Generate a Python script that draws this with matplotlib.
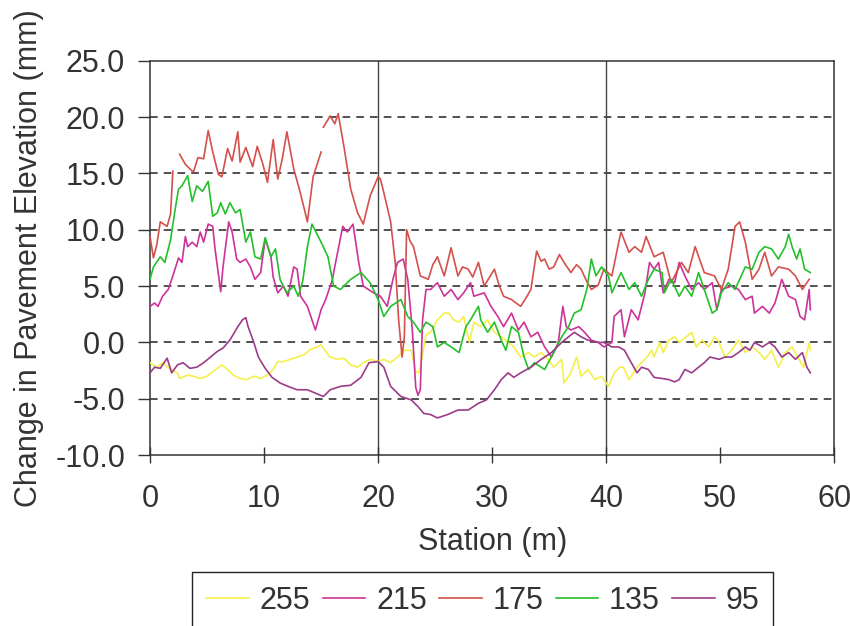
import numpy as np
import matplotlib
matplotlib.use("Agg")
import matplotlib.pyplot as plt

# --- data: (station m, change in elevation mm) ---
nan = np.nan

s255 = [(0.0, -1.8), (0.6, -2.2), (1.1, -1.8), (1.8, -2.4), (2.4, -2.7), (2.6, -3.2), (3.3, -2.9), (3.8, -3.0),
        (4.4, -3.2), (5.0, -3.0), (5.5, -2.6), (6.3, -2.0), (6.8, -2.4), (7.3, -2.9), (7.9, -3.2), (8.5, -3.3),
        (9.1, -3.0), (9.7, -3.2), (10.3, -2.9), (10.8, -2.4), (11.2, -1.7), (11.7, -1.7), (12.3, -1.5), (12.9, -1.3),
        (13.5, -1.1), (14.1, -0.6), (14.7, -0.4), (15.0, -0.2), (15.4, -0.8), (15.8, -1.3), (16.4, -1.5), (17.0, -1.4),
        (17.6, -2.0), (18.2, -2.2), (18.7, -1.8), (19.3, -1.5), (20.0, -1.7), (20.5, -1.5), (21.1, -1.8), (21.7, -1.3),
        (22.3, -0.7), (22.9, -0.7), (23.3, -2.6), (23.5, -2.7), (23.7, -2.2), (24.2, 0.7), (24.6, 0.9), (25.2, 2.0),
        (25.8, 2.6), (26.2, 2.6), (26.6, 2.0), (27.1, 1.8), (27.5, 2.3), (28.0, 0.0), (28.4, 1.8), (29.0, 1.4),
        (29.6, 2.0), (30.2, 0.9), (30.8, 0.5), (31.4, 0.0), (31.9, -0.4), (32.5, -1.3), (33.2, -0.9), (33.7, -1.3),
        (34.3, -0.9), (34.9, -1.5), (35.4, -2.2), (36.1, -1.5), (36.3, -3.6), (36.9, -2.7), (37.4, -1.3), (37.8, -3.0),
        (38.4, -2.4), (39.0, -3.3), (39.6, -3.0), (40.2, -3.9), (40.7, -2.7), (41.2, -2.2), (41.5, -2.2), (42.0, -3.3),
        (42.7, -2.2), (43.4, -1.5), (44.0, -0.7), (44.2, -1.3), (44.7, 0.0), (45.0, -0.9), (45.5, 0.2), (46.0, 0.5),
        (46.4, 0.0), (46.9, 0.4), (47.5, 0.9), (47.9, -0.4), (48.4, 0.2), (49.0, -0.4), (49.5, 0.5), (49.9, 0.0),
        (50.4, -1.3), (51.0, -0.7), (51.6, 0.2), (52.2, -0.9), (52.8, -0.4), (53.4, -0.9), (53.9, -1.5), (54.5, -0.7),
        (55.1, -2.2), (55.7, -0.9), (56.3, -0.4), (56.9, -1.5), (57.3, -2.2), (57.8, 0.0), (57.9, -0.7)]

s215 = [(0.0, 3.2), (0.4, 3.5), (0.7, 3.2), (1.1, 4.1), (1.6, 4.7), (2.0, 5.9), (2.5, 7.5), (2.8, 7.1),
        (3.1, 9.4), (3.3, 8.5), (3.7, 8.9), (4.1, 8.5), (4.4, 9.8), (4.7, 8.9), (5.1, 10.5), (5.5, 10.3),
        (5.7, 8.3), (6.2, 4.5), (6.4, 6.7), (6.9, 10.7), (7.2, 9.8), (7.6, 7.4), (7.9, 7.1), (8.4, 7.4),
        (8.8, 6.7), (9.2, 5.6), (9.7, 6.2), (10.1, 9.2), (10.6, 7.6), (10.8, 5.8), (11.2, 4.4), (11.7, 5.0),
        (12.1, 4.1), (12.6, 6.7), (12.9, 6.5), (13.2, 4.1), (13.8, 3.2), (14.5, 1.1), (15.0, 2.9), (15.4, 3.8),
        (16.0, 5.6), (16.1, 6.2), (16.9, 10.3), (17.3, 9.8), (17.8, 10.5), (18.3, 7.1), (18.7, 5.0), (19.6, 4.4),
        (20.2, 4.1), (20.8, 3.2), (21.3, 5.6), (21.7, 7.1), (22.2, 7.4), (22.6, 5.6), (23.0, 1.1), (23.3, -4.0),
        (23.5, -4.7), (23.7, -4.2), (23.9, 2.0), (24.2, 4.7), (24.6, 4.7), (25.2, 5.3), (25.8, 4.1), (26.4, 4.7),
        (27.0, 3.8), (27.5, 4.4), (28.1, 5.3), (28.4, 4.1), (29.3, 4.4), (29.9, 3.2), (30.5, 2.3), (31.0, 1.4),
        (31.7, 2.6), (32.3, 1.1), (32.8, 1.8), (33.4, 0.5), (34.0, 0.9), (34.6, -0.4), (35.2, -1.3), (35.8, 0.0),
        (36.2, 3.2), (36.5, 1.4), (36.9, 1.1), (37.6, 1.4), (38.1, 0.9), (38.7, 0.2), (39.3, 0.0), (39.8, -0.4),
        (40.5, 0.0), (40.7, 2.3), (41.3, 2.9), (41.6, 0.5), (42.2, 2.9), (42.8, 2.0), (43.4, 4.4), (43.8, 7.1),
        (44.2, 6.5), (44.6, 7.1), (45.0, 4.4), (45.5, 5.6), (46.0, 5.3), (46.4, 7.1), (46.9, 5.9), (47.5, 4.7),
        (48.1, 5.3), (48.6, 4.7), (49.3, 5.3), (49.7, 2.9), (50.1, 4.7), (51.0, 5.0), (51.6, 4.7), (52.2, 3.8),
        (52.8, 4.1), (53.0, 2.6), (53.7, 3.2), (54.3, 2.6), (54.8, 3.5), (55.4, 5.6), (56.0, 4.1), (56.6, 3.8),
        (57.0, 2.3), (57.4, 2.0), (57.8, 4.7), (57.9, 2.9)]

s175 = [(0.0, 9.4), (0.3, 7.5), (0.6, 8.7), (0.9, 10.7), (1.5, 10.3), (1.8, 11.4), (2.0, 15.2), (2.3, nan),
        (2.6, 16.7), (3.1, 15.8), (3.8, 15.1), (4.2, 16.4), (4.7, 16.3), (5.1, 18.8), (5.5, 16.9), (6.0, 14.9),
        (6.3, 14.7), (6.8, 17.2), (7.2, 16.1), (7.7, 18.7), (7.9, 16.0), (8.4, 17.3), (9.0, 15.6), (9.4, 17.4),
        (9.9, 15.8), (10.3, 14.2), (10.8, 18.0), (11.2, 14.5), (11.6, 16.3), (12.0, 18.7), (12.6, 15.4), (13.2, 13.2),
        (13.8, 10.7), (14.3, 14.7), (15.0, 16.9), (15.1, nan), (15.2, 19.1), (15.8, 20.1), (16.2, 19.4), (16.5, 20.3),
        (17.0, 17.4), (17.6, 13.6), (18.2, 11.5), (18.7, 10.5), (19.3, 13.0), (20.0, 14.7), (20.2, 14.5), (20.5, 13.3),
        (21.1, 10.7), (21.5, 7.1), (21.8, 2.0), (22.1, -1.3), (22.3, 0.5), (22.5, 10.0), (22.8, 9.0), (23.1, 8.5),
        (23.7, 5.9), (24.4, 5.6), (24.8, 6.9), (25.2, 7.6), (25.8, 5.9), (26.4, 8.4), (27.0, 5.9), (27.4, 6.7),
        (27.9, 6.5), (28.3, 5.8), (28.8, 7.1), (29.3, 5.0), (30.2, 6.5), (30.6, 5.1), (31.0, 4.1), (31.7, 3.8),
        (32.5, 3.2), (33.0, 4.0), (33.4, 4.7), (33.9, 8.1), (34.3, 7.2), (34.6, 7.4), (35.0, 6.5), (35.4, 6.7),
        (35.9, 7.8), (36.3, 7.1), (36.9, 6.2), (37.4, 6.9), (37.8, 6.5), (38.3, 5.4), (38.7, 4.7), (39.3, 5.1),
        (39.8, 6.5), (40.5, 5.9), (41.1, 8.9), (41.3, 9.8), (42.0, 8.0), (42.5, 8.5), (43.1, 8.0), (43.5, 9.4),
        (44.2, 7.6), (45.0, 8.0), (45.7, 5.3), (46.6, 7.1), (47.2, 6.2), (47.8, 8.5), (48.6, 6.2), (49.5, 5.9),
        (50.1, 4.7), (50.7, 6.5), (51.3, 10.3), (51.7, 10.7), (52.2, 8.9), (52.8, 5.6), (53.4, 6.5), (53.9, 8.0),
        (54.5, 5.9), (55.1, 6.7), (56.0, 6.5), (56.6, 5.9), (57.2, 4.7), (57.8, 5.6)]

s135 = [(0.0, 5.6), (0.3, 6.7), (0.9, 7.6), (1.3, 7.1), (1.8, 9.1), (2.2, 11.8), (2.5, 13.6), (2.8, 13.9),
        (3.3, 14.8), (3.7, 12.5), (4.1, 13.9), (4.6, 13.4), (5.1, 14.3), (5.5, 11.2), (5.9, 11.5), (6.2, 12.4),
        (6.6, 11.4), (7.0, 12.4), (7.5, 11.5), (7.9, 11.8), (8.4, 8.9), (8.8, 9.8), (9.2, 7.6), (9.7, 7.4),
        (10.1, 9.3), (10.6, 7.6), (11.0, 8.3), (11.4, 5.6), (12.0, 4.4), (12.6, 5.0), (13.0, 4.1), (13.4, 5.5),
        (13.8, 8.5), (14.2, 10.5), (15.0, 8.9), (15.6, 7.6), (16.1, 5.0), (16.7, 4.7), (17.6, 5.6), (18.5, 6.2),
        (19.3, 5.3), (20.0, 3.8), (20.5, 2.3), (21.1, 3.2), (22.0, 3.8), (22.6, 2.3), (23.1, 1.8), (23.7, 0.9),
        (24.2, 1.8), (24.8, 1.4), (25.2, -0.4), (25.8, 0.0), (26.4, -0.4), (27.1, -0.9), (27.7, 1.4), (28.1, 2.0),
        (28.8, 3.2), (29.0, 2.0), (29.6, 0.9), (30.2, 1.8), (30.8, 0.2), (31.2, -0.7), (31.7, 1.4), (32.3, 0.9),
        (32.8, -1.3), (33.2, -2.4), (33.7, -1.8), (34.6, -2.4), (35.4, -0.9), (36.1, 0.5), (36.7, 1.4), (37.2, 2.6),
        (37.8, 2.9), (38.3, 4.7), (38.7, 7.4), (39.1, 5.9), (39.6, 6.7), (40.2, 5.9), (40.5, 4.4), (41.3, 6.2),
        (42.0, 4.7), (42.5, 5.3), (43.1, 4.1), (43.7, 5.6), (44.2, 6.5), (44.9, 6.2), (45.1, 4.4), (45.7, 5.6),
        (46.4, 4.1), (46.9, 5.0), (47.5, 4.1), (48.1, 6.2), (48.6, 4.7), (49.3, 2.6), (49.7, 2.9), (50.1, 4.4),
        (50.7, 5.3), (51.3, 4.7), (52.2, 6.7), (52.8, 6.5), (53.4, 8.0), (53.9, 8.5), (54.5, 8.3), (55.1, 7.4),
        (55.7, 8.5), (56.0, 9.6), (56.3, 8.5), (56.7, 7.4), (57.0, 8.3), (57.4, 6.5), (57.9, 6.2)]

s95 = [(0.0, -2.7), (0.4, -2.2), (0.9, -2.3), (1.5, -1.4), (1.9, -2.7), (2.4, -2.0), (2.9, -1.8), (3.5, -2.3),
       (4.1, -2.2), (4.7, -1.8), (5.3, -1.3), (5.9, -0.8), (6.4, -0.5), (7.0, 0.2), (7.7, 1.4), (8.1, 2.0),
       (8.4, 2.2), (8.6, 1.4), (9.1, 0.0), (9.5, -1.3), (10.1, -2.3), (10.7, -3.1), (11.4, -3.6), (12.1, -3.9),
       (12.9, -4.2), (13.8, -4.2), (14.5, -4.5), (15.2, -4.8), (15.8, -4.2), (16.7, -3.9), (17.6, -3.8), (18.5, -3.1),
       (19.2, -1.8), (20.0, -1.7), (20.5, -2.2), (21.1, -3.9), (22.0, -4.8), (22.9, -5.1), (23.5, -5.7), (24.0, -6.3),
       (24.6, -6.4), (25.2, -6.7), (26.1, -6.4), (27.0, -6.0), (27.9, -6.0), (28.8, -5.4), (29.5, -5.1), (30.2, -4.2),
       (30.8, -3.3), (31.4, -2.7), (31.9, -3.1), (32.5, -2.7), (33.4, -2.2), (34.3, -1.5), (35.2, -0.9), (36.1, 0.0),
       (36.7, 0.5), (37.2, 0.9), (37.8, 0.5), (38.4, 0.2), (39.3, 0.0), (39.8, 0.0), (40.5, -0.4), (41.1, -0.4),
       (41.6, -0.7), (42.2, -1.8), (42.7, -2.7), (43.1, -2.2), (43.7, -2.4), (44.2, -3.1), (44.9, -3.2), (45.5, -3.3),
       (46.0, -3.5), (46.4, -3.3), (46.9, -2.4), (47.5, -2.7), (48.1, -2.2), (48.6, -1.8), (49.1, -1.3), (49.9, -1.5),
       (50.4, -1.3), (51.0, -1.3), (51.6, -0.9), (52.2, -0.4), (52.6, -0.7), (53.0, 0.0), (53.7, -0.4), (54.3, 0.0),
       (54.8, -0.4), (55.4, -1.3), (56.0, -0.9), (56.6, -1.5), (57.2, -0.9), (57.6, -2.2), (57.9, -2.7)]

labels = ["255", "215", "175", "135", "95"]
colors = ["#F4F04A", "#CC3399", "#D4504C", "#24C02C", "#9C3C88"]

plt.rcParams['font.family'] = ['Liberation Sans', 'DejaVu Sans']

fig = plt.figure(figsize=(8.5, 6.26), dpi=100)
ax = fig.add_axes([0.1765, 0.273, 0.805, 0.630])

for data, lab, col in zip([s255, s215, s175, s135, s95], labels, colors):
    xs, ys = zip(*data)
    ax.plot(xs, ys, color=col, lw=1.2, label=lab, zorder=3)

# dashed horizontal grid, solid vertical lines at 20 and 40
for yv in [-5, 0, 5, 10, 15, 20]:
    ax.axhline(yv, color="#222222", lw=1.1, ls=(0, (5, 4)), zorder=1)
for xv in [20, 40]:
    ax.axvline(xv, color="#444444", lw=1.0, zorder=1)

ax.set_xlim(0, 60)
ax.set_ylim(-10, 25)
ax.set_xticks(range(0, 61, 10))
ax.set_yticks(range(-10, 26, 5))
ax.set_yticklabels([f"{v:.1f}" for v in range(-10, 26, 5)])

ax.tick_params(axis="y", direction="out", length=9, width=1, pad=9,
               labelsize=22, colors="#333333")
ax.tick_params(axis="x", direction="inout", length=12, width=1, pad=15,
               labelsize=22, colors="#333333")
for sp in ax.spines.values():
    sp.set_color("#333333")
    sp.set_linewidth(1.1)

ax.set_xlabel("Station (m)", fontsize=22, color="#333333", labelpad=9)
ax.set_ylabel("Change in Pavement Elevation (mm)", fontsize=22, color="#333333", labelpad=8)

leg = fig.legend(loc="upper center", bbox_to_anchor=(0.568, 0.086), ncol=5,
                 fontsize=22, frameon=True, fancybox=False, framealpha=1,
                 handlelength=1.4, handletextpad=0.35, columnspacing=0.4,
                 borderpad=0.45, borderaxespad=0)
leg.get_frame().set_edgecolor("#222222")
leg.get_frame().set_linewidth(1.0)
for t in leg.get_texts():
    t.set_color("#333333")

fig.savefig("out.png", dpi=100)
